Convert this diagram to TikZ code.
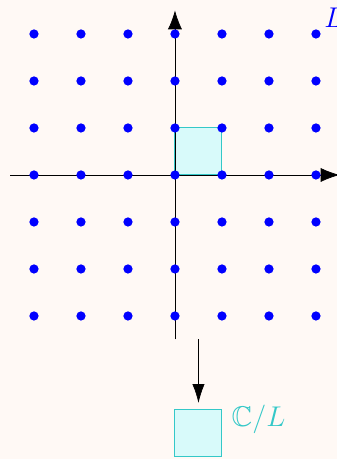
\documentclass[tikz,border=0pt]{standalone}
\usepackage{amssymb}
\usetikzlibrary{arrows.meta}
\definecolor{paper}{RGB}{255,249,245}
\definecolor{cellfill}{RGB}{216,250,250}
\definecolor{celledge}{RGB}{52,200,200}
\begin{document}
\begin{tikzpicture}[
    lattice/.style={fill=blue},
    axis/.style={draw=black, -{Latex[length=4mm,width=3mm]}},
    cell/.style={fill=cellfill, draw=celledge, line width=0.6pt}
]
    \def\n{3}
    \def\len{3.5}
    \def\dotr{2.8pt}

% --------------------
% background and frame
% --------------------
\useasboundingbox[fill=paper] (-3.723,-6.043) rectangle (3.447,3.723);

% --------------------
% fundamental cell
% --------------------
\draw[cell] (0,0) rectangle (1,1);

% --------------------
% axes
% --------------------
\draw[axis] (-\len,0) -- (\len,0);
\draw[axis] (0,-\len) -- (0,\len);

% --------------------
% lattice points
% --------------------
\foreach \i in {-\n,...,\n} {
    \foreach \j in {-\n,...,\n} {
        \fill[lattice] (\i,\j) circle (\dotr);
    }
}
\node[anchor=west, blue, font=\LARGE, inner sep=0.2cm] (lab) at (2.97,3.34) {$L$};

% --------------------
% quotient
% --------------------
\coordinate (top) at (0.5,-3.5);
\coordinate (bot) at (0.5,-4.85);
\draw[-{Latex[length=4mm,width=2.6mm]}] (top) -- (bot);

\draw[cell] (0,-6) rectangle (1,-5);
\node[anchor=west, celledge, font=\LARGE, inner sep=0.2cm] (quot) at (1,-5.19) {$\mathbb{C}/L$};

\end{tikzpicture}
\end{document}
